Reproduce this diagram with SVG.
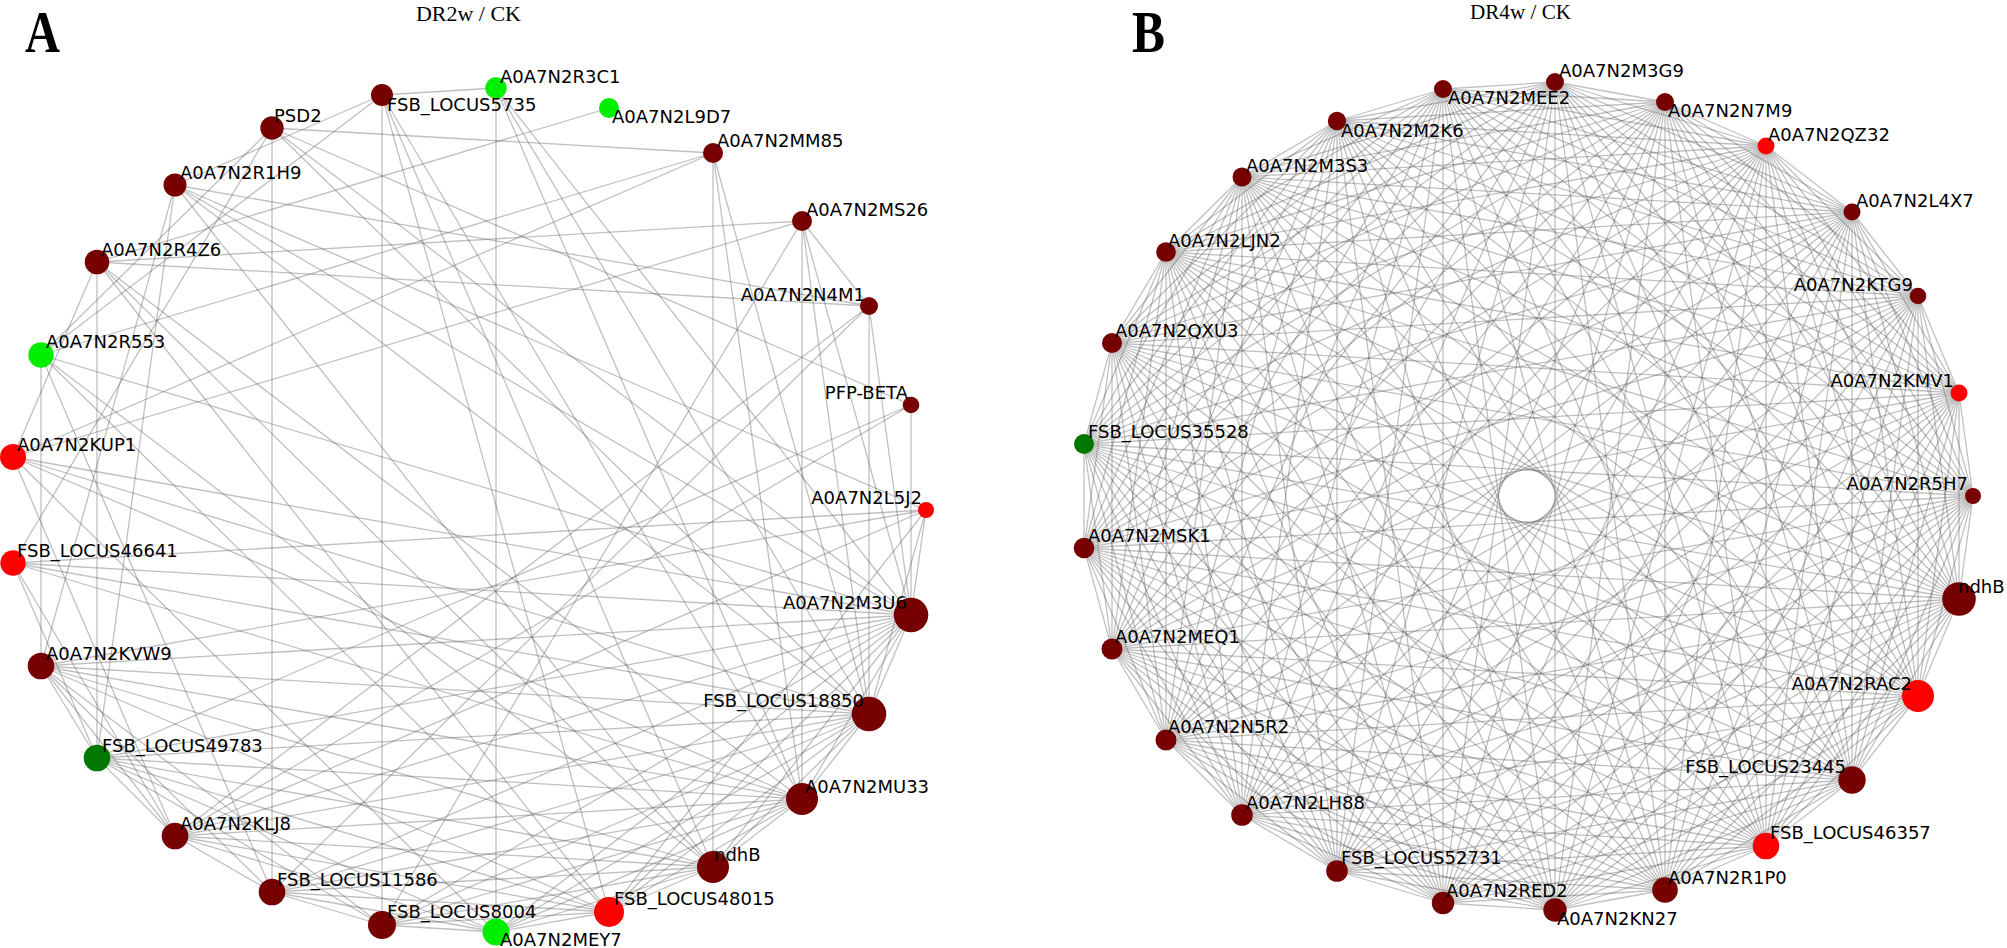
<svg xmlns="http://www.w3.org/2000/svg" width="2007" height="948" viewBox="0 0 2007 948">
<style>
.e{fill:none;stroke:#5a5a5a;stroke-opacity:0.38;stroke-width:1.3}
.l{font-family:"DejaVu Sans","Liberation Sans",sans-serif;font-size:18px;fill:#000}
.r{text-anchor:end}
.dr{fill:#770000}.rd{fill:#ff0000}.lg{fill:#00ee00}.dg{fill:#007800}
.ttl{font-family:"Liberation Serif","Times New Roman",serif;font-size:20px;fill:#000}
.pl{font-family:"Liberation Serif","Times New Roman",serif;font-weight:bold;font-size:60px;fill:#000}
</style>
<rect width="2007" height="948" fill="#ffffff"/>
<g id="titles">
<text class="pl" x="25" y="52" textLength="35" lengthAdjust="spacingAndGlyphs">A</text>
<text class="ttl" x="416" y="21" textLength="105" lengthAdjust="spacingAndGlyphs">DR2w / CK</text>
<text class="pl" x="1132" y="52" textLength="33" lengthAdjust="spacingAndGlyphs">B</text>
<text class="ttl" x="1470" y="18.5" textLength="101" lengthAdjust="spacingAndGlyphs">DR4w / CK</text>
</g>
<g id="edges-A" class="e">
<path d="M926 510L175 185M926 510L13 563M926 510L41 666M926 510L175 836M926 510L609 912M926 510L869 714M926 510L911 615"/>
<path d="M911 405L272 128M911 405L97 758M911 405L175 836M911 405L911 615"/>
<path d="M869 306L802 221M869 306L175 185M869 306L97 262M869 306L175 836M869 306L272 892M869 306L869 714M869 306L911 615"/>
<path d="M802 221L97 262M802 221L13 457M802 221L382 925M802 221L802 799M802 221L869 714M802 221L911 615"/>
<path d="M713 153L272 128M713 153L41 355M713 153L13 457M713 153L713 867M713 153L802 799M713 153L869 714"/>
<path d="M609 108L97 262"/>
<path d="M496 88L382 95M496 88L496 932M496 88L802 799M496 88L869 714M496 88L911 615"/>
<path d="M382 95L175 185M382 95L41 355M382 95L382 925M382 95L609 912M382 95L713 867M382 95L802 799"/>
<path d="M272 128L41 355M272 128L13 563M272 128L272 892M272 128L869 714M272 128L911 615"/>
<path d="M175 185L41 666M175 185L97 758M175 185L713 867M175 185L869 714M175 185L911 615"/>
<path d="M97 262L13 457M97 262L97 758M97 262L609 912M97 262L713 867M97 262L802 799"/>
<path d="M41 355L41 666M41 355L272 892M41 355L609 912M41 355L713 867M41 355L911 615"/>
<path d="M13 457L175 836M13 457L496 932M13 457L802 799M13 457L869 714M13 457L911 615"/>
<path d="M13 563L97 758M13 563L175 836M13 563L802 799M13 563L869 714M13 563L911 615"/>
<path d="M41 666L97 758M41 666L175 836M41 666L272 892M41 666L382 925M41 666L609 912M41 666L713 867M41 666L802 799M41 666L869 714M41 666L911 615"/>
<path d="M97 758L175 836M97 758L382 925M97 758L496 932M97 758L609 912M97 758L713 867M97 758L802 799M97 758L869 714M97 758L911 615"/>
<path d="M175 836L272 892M175 836L496 932M175 836L609 912M175 836L713 867M175 836L802 799M175 836L869 714M175 836L911 615"/>
<path d="M272 892L382 925M272 892L496 932M272 892L609 912M272 892L713 867M272 892L802 799M272 892L869 714M272 892L911 615"/>
<path d="M382 925L496 932M382 925L609 912M382 925L713 867M382 925L802 799M382 925L869 714M382 925L911 615"/>
<path d="M496 932L609 912M496 932L713 867M496 932L802 799M496 932L869 714M496 932L911 615"/>
<path d="M609 912L713 867M609 912L802 799M609 912L869 714M609 912L911 615"/>
<path d="M713 867L802 799M713 867L869 714M713 867L911 615"/>
<path d="M802 799L869 714M802 799L911 615"/>
<path d="M869 714L911 615"/>
</g>
<g id="edges-B" class="e">
<path d="M1973 496L1959 393M1973 496L1918 296M1973 496L1852 212M1973 496L1766 146M1973 496L1665 102M1973 496L1555 82M1973 496L1443 89M1973 496L1337 121M1973 496L1242 177M1973 496L1166 252M1973 496L1112 343M1973 496L1084 444M1973 496L1084 548M1973 496L1112 649M1973 496L1166 740M1973 496L1242 815M1973 496L1337 871M1973 496L1443 903M1973 496L1555 910M1973 496L1665 890M1973 496L1766 846M1973 496L1852 780M1973 496L1918 696M1973 496L1959 599"/>
<path d="M1959 393L1918 296M1959 393L1852 212M1959 393L1766 146M1959 393L1665 102M1959 393L1555 82M1959 393L1443 89M1959 393L1337 121M1959 393L1242 177M1959 393L1166 252M1959 393L1112 343M1959 393L1084 444M1959 393L1084 548M1959 393L1112 649M1959 393L1166 740M1959 393L1242 815M1959 393L1337 871M1959 393L1443 903M1959 393L1555 910M1959 393L1665 890M1959 393L1766 846M1959 393L1852 780M1959 393L1918 696M1959 393L1959 599"/>
<path d="M1918 296L1852 212M1918 296L1766 146M1918 296L1665 102M1918 296L1555 82M1918 296L1443 89M1918 296L1337 121M1918 296L1242 177M1918 296L1166 252M1918 296L1112 343M1918 296L1084 444M1918 296L1084 548M1918 296L1112 649M1918 296L1166 740M1918 296L1242 815M1918 296L1337 871M1918 296L1443 903M1918 296L1555 910M1918 296L1665 890M1918 296L1766 846M1918 296L1852 780M1918 296L1918 696M1918 296L1959 599"/>
<path d="M1852 212L1766 146M1852 212L1665 102M1852 212L1555 82M1852 212L1443 89M1852 212L1337 121M1852 212L1242 177M1852 212L1166 252M1852 212L1112 343M1852 212L1084 444M1852 212L1084 548M1852 212L1112 649M1852 212L1166 740M1852 212L1242 815M1852 212L1337 871M1852 212L1443 903M1852 212L1555 910M1852 212L1665 890M1852 212L1766 846M1852 212L1852 780M1852 212L1918 696M1852 212L1959 599"/>
<path d="M1766 146L1665 102M1766 146L1555 82M1766 146L1443 89M1766 146L1337 121M1766 146L1242 177M1766 146L1166 252M1766 146L1112 343M1766 146L1084 444M1766 146L1084 548M1766 146L1112 649M1766 146L1166 740M1766 146L1242 815M1766 146L1337 871M1766 146L1443 903M1766 146L1555 910M1766 146L1665 890M1766 146L1766 846M1766 146L1852 780M1766 146L1918 696M1766 146L1959 599"/>
<path d="M1665 102L1555 82M1665 102L1443 89M1665 102L1337 121M1665 102L1242 177M1665 102L1166 252M1665 102L1112 343M1665 102L1084 444M1665 102L1084 548M1665 102L1112 649M1665 102L1166 740M1665 102L1242 815M1665 102L1337 871M1665 102L1443 903M1665 102L1555 910M1665 102L1665 890M1665 102L1766 846M1665 102L1852 780M1665 102L1918 696M1665 102L1959 599"/>
<path d="M1555 82L1443 89M1555 82L1337 121M1555 82L1242 177M1555 82L1166 252M1555 82L1112 343M1555 82L1084 444M1555 82L1084 548M1555 82L1112 649M1555 82L1166 740M1555 82L1242 815M1555 82L1337 871M1555 82L1443 903M1555 82L1555 910M1555 82L1665 890M1555 82L1766 846M1555 82L1852 780M1555 82L1918 696M1555 82L1959 599"/>
<path d="M1443 89L1337 121M1443 89L1242 177M1443 89L1166 252M1443 89L1112 343M1443 89L1084 444M1443 89L1084 548M1443 89L1112 649M1443 89L1166 740M1443 89L1242 815M1443 89L1337 871M1443 89L1443 903M1443 89L1555 910M1443 89L1665 890M1443 89L1766 846M1443 89L1852 780M1443 89L1918 696M1443 89L1959 599"/>
<path d="M1337 121L1242 177M1337 121L1166 252M1337 121L1112 343M1337 121L1084 444M1337 121L1084 548M1337 121L1112 649M1337 121L1166 740M1337 121L1242 815M1337 121L1337 871M1337 121L1443 903M1337 121L1555 910M1337 121L1665 890M1337 121L1766 846M1337 121L1852 780M1337 121L1918 696M1337 121L1959 599"/>
<path d="M1242 177L1166 252M1242 177L1112 343M1242 177L1084 444M1242 177L1084 548M1242 177L1112 649M1242 177L1166 740M1242 177L1242 815M1242 177L1337 871M1242 177L1443 903M1242 177L1555 910M1242 177L1665 890M1242 177L1766 846M1242 177L1852 780M1242 177L1918 696M1242 177L1959 599"/>
<path d="M1166 252L1112 343M1166 252L1084 444M1166 252L1084 548M1166 252L1112 649M1166 252L1166 740M1166 252L1242 815M1166 252L1337 871M1166 252L1443 903M1166 252L1555 910M1166 252L1665 890M1166 252L1766 846M1166 252L1852 780M1166 252L1918 696M1166 252L1959 599"/>
<path d="M1112 343L1084 444M1112 343L1084 548M1112 343L1112 649M1112 343L1166 740M1112 343L1242 815M1112 343L1337 871M1112 343L1443 903M1112 343L1555 910M1112 343L1665 890M1112 343L1766 846M1112 343L1852 780M1112 343L1918 696M1112 343L1959 599"/>
<path d="M1084 444L1084 548M1084 444L1112 649M1084 444L1166 740M1084 444L1242 815M1084 444L1337 871M1084 444L1443 903M1084 444L1555 910M1084 444L1665 890M1084 444L1766 846M1084 444L1852 780M1084 444L1918 696M1084 444L1959 599"/>
<path d="M1084 548L1112 649M1084 548L1166 740M1084 548L1242 815M1084 548L1337 871M1084 548L1443 903M1084 548L1555 910M1084 548L1665 890M1084 548L1766 846M1084 548L1852 780M1084 548L1918 696M1084 548L1959 599"/>
<path d="M1112 649L1166 740M1112 649L1242 815M1112 649L1337 871M1112 649L1443 903M1112 649L1555 910M1112 649L1665 890M1112 649L1766 846M1112 649L1852 780M1112 649L1918 696M1112 649L1959 599"/>
<path d="M1166 740L1242 815M1166 740L1337 871M1166 740L1443 903M1166 740L1555 910M1166 740L1665 890M1166 740L1766 846M1166 740L1852 780M1166 740L1918 696M1166 740L1959 599"/>
<path d="M1242 815L1337 871M1242 815L1443 903M1242 815L1555 910M1242 815L1665 890M1242 815L1766 846M1242 815L1852 780M1242 815L1918 696M1242 815L1959 599"/>
<path d="M1337 871L1443 903M1337 871L1555 910M1337 871L1665 890M1337 871L1766 846M1337 871L1852 780M1337 871L1918 696M1337 871L1959 599"/>
<path d="M1443 903L1555 910M1443 903L1665 890M1443 903L1766 846M1443 903L1852 780M1443 903L1918 696M1443 903L1959 599"/>
<path d="M1555 910L1665 890M1555 910L1766 846M1555 910L1852 780M1555 910L1918 696M1555 910L1959 599"/>
<path d="M1665 890L1766 846M1665 890L1852 780M1665 890L1918 696M1665 890L1959 599"/>
<path d="M1766 846L1852 780M1766 846L1918 696M1766 846L1959 599"/>
<path d="M1852 780L1918 696M1852 780L1959 599"/>
<path d="M1918 696L1959 599"/>
</g>
<g id="nodes-A">
<g id="a-L5J2"><circle class="rd" cx="926" cy="510" r="8"/><text class="l r" x="922" y="504">A0A7N2L5J2</text></g>
<g id="a-PFP-BETA"><circle class="dr" cx="911" cy="405" r="8.3"/><text class="l r" x="908" y="399">PFP-BETA</text></g>
<g id="a-N4M1"><circle class="dr" cx="869" cy="306" r="9"/><text class="l r" x="865" y="301">A0A7N2N4M1</text></g>
<g id="a-MS26"><circle class="dr" cx="802" cy="221" r="10"/><text class="l" x="806" y="216">A0A7N2MS26</text></g>
<g id="a-MM85"><circle class="dr" cx="713" cy="153" r="10"/><text class="l" x="717" y="147">A0A7N2MM85</text></g>
<g id="a-L9D7"><circle class="lg" cx="609" cy="108" r="10"/><text class="l" x="612" y="123">A0A7N2L9D7</text></g>
<g id="a-R3C1"><circle class="lg" cx="496" cy="88" r="10.7"/><text class="l" x="500" y="83">A0A7N2R3C1</text></g>
<g id="a-LOCUS5735"><circle class="dr" cx="382" cy="95" r="11"/><text class="l" x="387" y="111">FSB_LOCUS5735</text></g>
<g id="a-PSD2"><circle class="dr" cx="272" cy="128" r="11.7"/><text class="l" x="274" y="122">PSD2</text></g>
<g id="a-R1H9"><circle class="dr" cx="175" cy="185" r="11.5"/><text class="l" x="180" y="179">A0A7N2R1H9</text></g>
<g id="a-R4Z6"><circle class="dr" cx="97" cy="262" r="12.3"/><text class="l" x="101" y="256">A0A7N2R4Z6</text></g>
<g id="a-R553"><circle class="lg" cx="41" cy="355" r="12.7"/><text class="l" x="46" y="348">A0A7N2R553</text></g>
<g id="a-KUP1"><circle class="rd" cx="13" cy="457" r="13"/><text class="l" x="17" y="451">A0A7N2KUP1</text></g>
<g id="a-LOCUS46641"><circle class="rd" cx="13" cy="563" r="12.7"/><text class="l" x="17" y="557">FSB_LOCUS46641</text></g>
<g id="a-KVW9"><circle class="dr" cx="41" cy="666" r="13.3"/><text class="l" x="46" y="660">A0A7N2KVW9</text></g>
<g id="a-LOCUS49783"><circle class="dg" cx="97" cy="758" r="13.3"/><text class="l" x="102" y="752">FSB_LOCUS49783</text></g>
<g id="a-KLJ8"><circle class="dr" cx="175" cy="836" r="13.3"/><text class="l" x="180" y="830">A0A7N2KLJ8</text></g>
<g id="a-LOCUS11586"><circle class="dr" cx="272" cy="892" r="13.3"/><text class="l" x="277" y="886">FSB_LOCUS11586</text></g>
<g id="a-LOCUS8004"><circle class="dr" cx="382" cy="925" r="14"/><text class="l" x="387" y="918">FSB_LOCUS8004</text></g>
<g id="a-MEY7"><circle class="lg" cx="496" cy="932" r="13.5"/><text class="l" x="500" y="946">A0A7N2MEY7</text></g>
<g id="a-LOCUS48015"><circle class="rd" cx="609" cy="912" r="15"/><text class="l" x="614" y="905">FSB_LOCUS48015</text></g>
<g id="a-ndhB"><circle class="dr" cx="713" cy="867" r="16"/><text class="l" x="714" y="861">ndhB</text></g>
<g id="a-MU33"><circle class="dr" cx="802" cy="799" r="16"/><text class="l" x="805" y="793">A0A7N2MU33</text></g>
<g id="a-LOCUS18850"><circle class="dr" cx="869" cy="714" r="17.3"/><text class="l r" x="864" y="707">FSB_LOCUS18850</text></g>
<g id="a-M3U6"><circle class="dr" cx="911" cy="615" r="17.3"/><text class="l r" x="907" y="609">A0A7N2M3U6</text></g>
</g>
<g id="nodes-B">
<g id="b-R5H7"><circle class="dr" cx="1973" cy="496" r="8"/><text class="l r" x="1968" y="490">A0A7N2R5H7</text></g>
<g id="b-KMV1"><circle class="rd" cx="1959" cy="393" r="8.5"/><text class="l r" x="1954" y="387">A0A7N2KMV1</text></g>
<g id="b-KTG9"><circle class="dr" cx="1918" cy="296" r="8.3"/><text class="l r" x="1913" y="291">A0A7N2KTG9</text></g>
<g id="b-L4X7"><circle class="dr" cx="1852" cy="212" r="8.5"/><text class="l" x="1856" y="207">A0A7N2L4X7</text></g>
<g id="b-QZ32"><circle class="rd" cx="1766" cy="146" r="8.5"/><text class="l" x="1768" y="141">A0A7N2QZ32</text></g>
<g id="b-N7M9"><circle class="dr" cx="1665" cy="102" r="9"/><text class="l" x="1668" y="117">A0A7N2N7M9</text></g>
<g id="b-M3G9"><circle class="dr" cx="1555" cy="82" r="9"/><text class="l" x="1559" y="77">A0A7N2M3G9</text></g>
<g id="b-MEE2"><circle class="dr" cx="1443" cy="89" r="9"/><text class="l" x="1448" y="104">A0A7N2MEE2</text></g>
<g id="b-M2K6"><circle class="dr" cx="1337" cy="121" r="9.2"/><text class="l" x="1341" y="137">A0A7N2M2K6</text></g>
<g id="b-M3S3"><circle class="dr" cx="1242" cy="177" r="9.5"/><text class="l" x="1246" y="172">A0A7N2M3S3</text></g>
<g id="b-LJN2"><circle class="dr" cx="1166" cy="252" r="9.8"/><text class="l" x="1168" y="247">A0A7N2LJN2</text></g>
<g id="b-QXU3"><circle class="dr" cx="1112" cy="343" r="10"/><text class="l" x="1115" y="337">A0A7N2QXU3</text></g>
<g id="b-LOCUS35528"><circle class="dg" cx="1084" cy="444" r="10"/><text class="l" x="1088" y="438">FSB_LOCUS35528</text></g>
<g id="b-MSK1"><circle class="dr" cx="1084" cy="548" r="10.3"/><text class="l" x="1088" y="542">A0A7N2MSK1</text></g>
<g id="b-MEQ1"><circle class="dr" cx="1112" cy="649" r="10.5"/><text class="l" x="1115" y="643">A0A7N2MEQ1</text></g>
<g id="b-N5R2"><circle class="dr" cx="1166" cy="740" r="10.5"/><text class="l" x="1168" y="733">A0A7N2N5R2</text></g>
<g id="b-LH88"><circle class="dr" cx="1242" cy="815" r="10.8"/><text class="l" x="1246" y="809">A0A7N2LH88</text></g>
<g id="b-LOCUS52731"><circle class="dr" cx="1337" cy="871" r="10.8"/><text class="l" x="1341" y="864">FSB_LOCUS52731</text></g>
<g id="b-RED2"><circle class="dr" cx="1443" cy="903" r="11.2"/><text class="l" x="1446" y="897">A0A7N2RED2</text></g>
<g id="b-KN27"><circle class="dr" cx="1555" cy="910" r="11.7"/><text class="l" x="1557" y="925">A0A7N2KN27</text></g>
<g id="b-R1P0"><circle class="dr" cx="1665" cy="890" r="12.8"/><text class="l" x="1668" y="884">A0A7N2R1P0</text></g>
<g id="b-LOCUS46357"><circle class="rd" cx="1766" cy="846" r="13.3"/><text class="l" x="1770" y="839">FSB_LOCUS46357</text></g>
<g id="b-LOCUS23445"><circle class="dr" cx="1852" cy="780" r="13.7"/><text class="l r" x="1846" y="773">FSB_LOCUS23445</text></g>
<g id="b-RAC2"><circle class="rd" cx="1918" cy="696" r="16"/><text class="l r" x="1912" y="690">A0A7N2RAC2</text></g>
<g id="b-ndhB"><circle class="dr" cx="1959" cy="599" r="16.8"/><text class="l" x="1958" y="593">ndhB</text></g>
</g>
</svg>
